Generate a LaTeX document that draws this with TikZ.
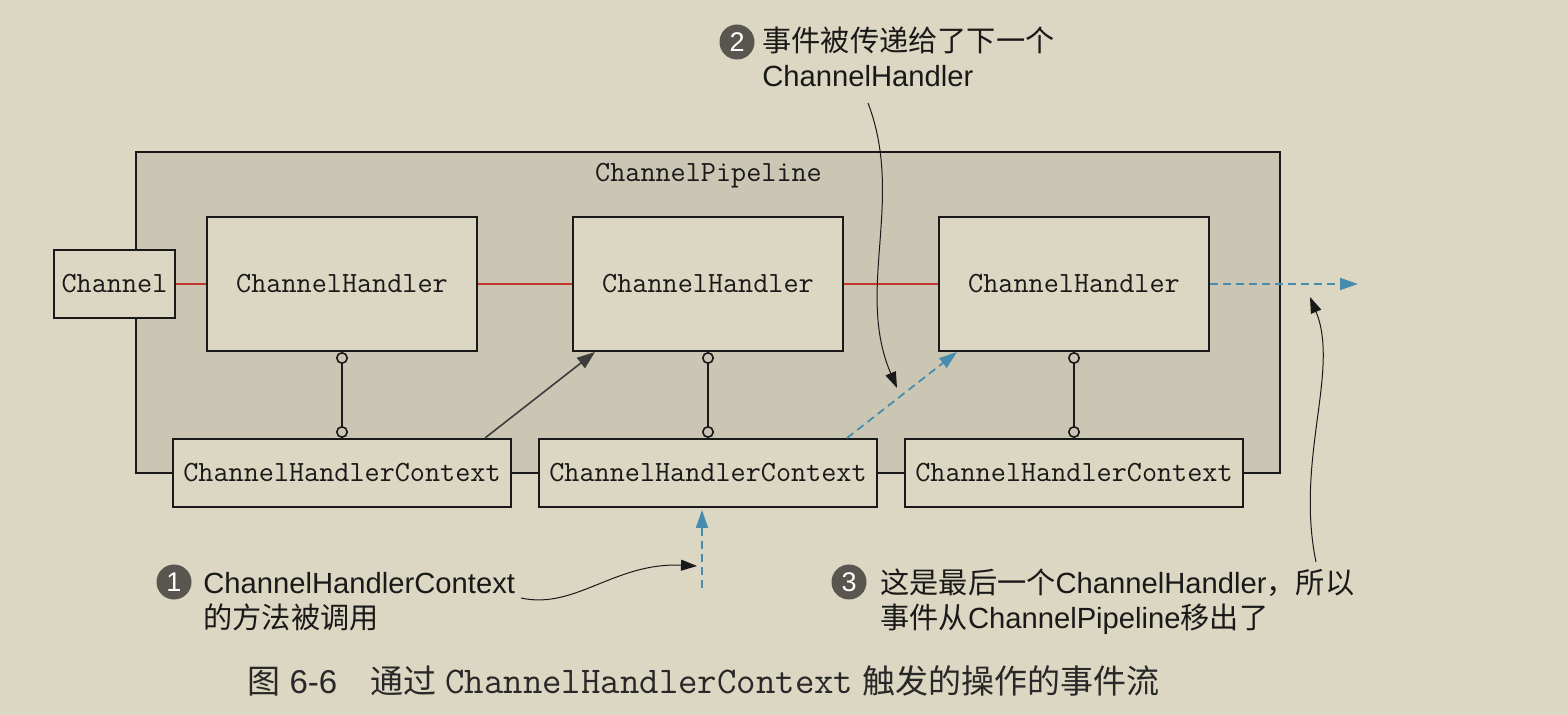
\documentclass[tikz,border=0pt]{standalone}
\usepackage{fontspec}
\setmainfont{Liberation Sans}
\newfontfamily\cjk{Noto Sans CJK SC}
\usetikzlibrary{arrows.meta}
\definecolor{bg}{RGB}{220,215,194}
\definecolor{pipec}{RGB}{203,198,180}
\definecolor{redl}{RGB}{196,54,44}
\definecolor{bluel}{RGB}{70,140,175}
\definecolor{numg}{RGB}{88,86,78}
\definecolor{ink}{RGB}{25,25,25}
\definecolor{capc}{RGB}{40,40,40}
\begin{document}
\begin{tikzpicture}[x=0.5pt,y=-0.5pt,
  box/.style={draw=ink, line width=1pt, fill=bg, inner sep=0pt, text=ink,
    font=\ttfamily\fontsize{14.67}{17}\selectfont},
  chbox/.style={box, minimum width=135pt, minimum height=67pt},
  ctxbox/.style={box, minimum width=169pt, minimum height=34pt},
  pipebox/.style={draw=ink, line width=1pt, fill=pipec, inner sep=0pt,
    minimum width=572pt, minimum height=160.5pt},
  redlink/.style={draw=redl, line width=0.8pt},
  blink/.style={draw=ink, line width=0.8pt},
  lolli/.style={draw=ink, line width=0.8pt,
    arrows={Circle[open,length=6pt]-Circle[open,length=6pt]}},
  blackarrow/.style={draw=ink!85, line width=0.8pt, -{Triangle[length=9pt,width=6.5pt]}},
  dasharrow/.style={draw=bluel, line width=0.9pt, dash pattern=on 4pt off 2.5pt,
    -{Triangle[length=9pt,width=6pt]}},
  callarrow/.style={draw=ink, line width=0.5pt, -{Triangle[length=8pt,width=5.5pt]}},
  num/.style={circle, fill=numg, text=white, minimum size=17.5pt, inner sep=0pt,
    font=\fontsize{13.5}{13.5}\selectfont},
  call/.style={font=\fontsize{14.6}{17.5}\selectfont, text=ink, align=left,
    inner sep=0pt, anchor=base west}
]
\useasboundingbox[fill=bg] (0,0) rectangle (1568,715);

\node[pipebox] (pipe) at (708,312.5) {};
\node[anchor=base, inner sep=0pt, text=ink, font=\ttfamily\fontsize{14.67}{17}\selectfont] (plabel) at (708.5,182) {ChannelPipeline};

\node[box, minimum width=60.5pt, minimum height=34pt] (chan) at (114.5,284) {Channel};
\node[chbox] (ch1) at (342,284) {ChannelHandler};
\node[chbox] (ch2) at (708,284) {ChannelHandler};
\node[chbox] (ch3) at (1074,284) {ChannelHandler};
\node[ctxbox] (chc1) at (342,473) {ChannelHandlerContext};
\node[ctxbox] (chc2) at (708,473) {ChannelHandlerContext};
\node[ctxbox] (chc3) at (1074,473) {ChannelHandlerContext};

\draw[redlink] (chan) -- (ch1);
\draw[redlink] (ch1) -- (ch2);
\draw[redlink] (ch2) -- (ch3);
\draw[blink] (chc1) -- (chc2);
\draw[blink] (chc2) -- (chc3);

\draw[lolli] (ch1.south) -- (chc1.north);
\draw[lolli] (ch2.south) -- (chc2.north);
\draw[lolli] (ch3.south) -- (chc3.north);

\draw[blackarrow] ([xshift=-13.5pt]chc1.north east) -- ([xshift=11.5pt]ch2.south west);
\draw[dasharrow] ([xshift=-15.5pt]chc2.north east) -- ([xshift=9.5pt]ch3.south west);
\coordinate (exit) at (1358,284);
\draw[dasharrow] (ch3.east) -- (exit);
\coordinate (callin) at (702,588);
\draw[dasharrow] (callin) -- ([xshift=-3pt,yshift=-1pt]chc2.south);

% callout 1
\node[num] (n1) at (174,582) {1};
\node[call] (t1) at (203,628) {ChannelHandlerContext\\{\cjk 的方法被调用}};
\coordinate (c1s) at (521,598);
\coordinate (c1e) at (697,566);
\draw[callarrow] (c1s) .. controls (575,610) and (615,562) .. (c1e);

% callout 2
\node[num] (n2) at (737,42) {2};
\node[call] (t2) at (762,87) {{\cjk 事件被传递给了下一个}\\ChannelHandler};
\coordinate (c2s) at (868,103);
\coordinate (c2e) at (897,388);
\draw[callarrow] (c2s) .. controls (905,200) and (855,290) .. (c2e);

% callout 3
\node[num] (n3) at (849,582) {3};
\node[call] (t3) at (880,628) {{\cjk 这是最后一个}ChannelHandler{\cjk ，所以}\\{\cjk 事件从}ChannelPipeline{\cjk 移出了}};
\coordinate (c3s) at (1316,562);
\coordinate (c3e) at (1310,297);
\draw[callarrow] (c3s) .. controls (1295,460) and (1340,370) .. (c3e);

% caption
\node[font=\fontsize{16.5}{20}\selectfont, text=capc, anchor=base west, inner sep=0pt] (cap) at (247,693)
  {{\cjk 图} 6-6\hspace{1em}{\cjk 通过} {\ttfamily\fontsize{18.86}{20}\selectfont ChannelHandlerContext} {\cjk 触发的操作的事件流}};
\end{tikzpicture}
\end{document}
